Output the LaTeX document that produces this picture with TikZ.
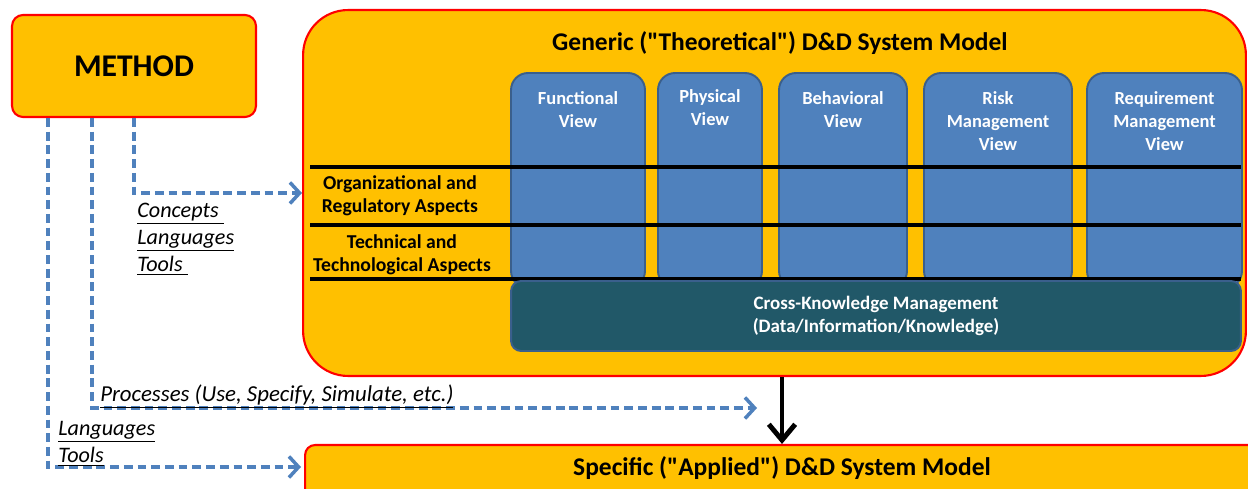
\documentclass[tikz,border=0pt]{standalone}
\usepackage{fontspec}
\setmainfont{Carlito}
\usepackage[HTML]{xcolor}
\usetikzlibrary{positioning, arrows, arrows.meta}

\definecolor{gold}{HTML}{FFC000}
\definecolor{viewblue}{HTML}{4F81BD}
\definecolor{viewedge}{HTML}{3A5F8C}
\definecolor{knowteal}{HTML}{215868}

\begin{document}
\begin{tikzpicture}[x=0.02cm, y=-0.02cm,
  model/.style={draw=red, line width=1.2pt, fill=gold},
  view/.style={draw=viewedge, line width=1.1pt, fill=viewblue, rounded corners=0.34cm},
  viewtxt/.style={text=white, font=\bfseries\fontsize{10.5}{13}\selectfont, align=center},
  aspect/.style={font=\bfseries\fontsize{11.2}{13}\selectfont, align=center},
  link/.style={draw=viewblue, line width=2pt, dash pattern=on 5pt off 2.8pt,
    -{Straight Barb[length=5.5pt, width=12pt, line width=2pt]}},
  note/.style={font=\itshape\fontsize{12.6}{15.3}\selectfont, align=left, anchor=north west, inner sep=0pt}]
\clip (0,0) rectangle (1248,489);

% method and models
\node[model, rounded corners=0.22cm, minimum width=4.88cm, minimum height=2.04cm,
  font=\bfseries\fontsize{18}{20}\selectfont] (method) at (134,66) {METHOD};
\node[model, rounded corners=0.9cm, minimum width=18.86cm, minimum height=7.32cm] (generic) at (774.5,193) {};
\node[font=\bfseries\fontsize{14.5}{16}\selectfont] (gtitle) at (780,43)
  {Generic (\textquotedbl Theoretical\textquotedbl) D\&D System Model};
\node[model, rounded corners=0.2cm, minimum width=19.3cm, minimum height=1.5cm] (specific) at (787.5,482.5) {};
\node[font=\bfseries\fontsize{14.5}{16}\selectfont] (stitle) at (782,468)
  {Specific (\textquotedbl Applied\textquotedbl) D\&D System Model};

% views
\node[view, minimum width=2.68cm, minimum height=4.3cm] (fv) at (578,180.5) {};
\node[view, minimum width=2.08cm, minimum height=4.3cm] (pv) at (710,180.5) {};
\node[view, minimum width=2.56cm, minimum height=4.3cm] (bv) at (843,180.5) {};
\node[view, minimum width=2.96cm, minimum height=4.3cm] (rv) at (998,180.5) {};
\node[view, minimum width=3.10cm, minimum height=4.3cm] (qv) at (1164.5,180.5) {};
\node[viewtxt] at (578,109.5) {Functional\\View};
\node[viewtxt] at (710,107.5) {Physical\\View};
\node[viewtxt] at (843,109.5) {Behavioral\\View};
\node[viewtxt] at (998,121) {Risk\\Management\\View};
\node[viewtxt] at (1164.5,121) {Requirement\\Management\\View};

% layers
\foreach \y in {167,225,279}
  \draw[line width=2.3pt] (310,\y) -- (1241,\y);
\node[aspect] (org) at (400,196) {Organizational and\\Regulatory Aspects};
\node[aspect] (tech) at (402,255) {Technical and\\Technological Aspects};
\node[draw=viewedge, line width=1.1pt, fill=knowteal, rounded corners=0.2cm, minimum width=14.6cm,
  minimum height=1.4cm, text=white, font=\bfseries\fontsize{10.8}{13}\selectfont, align=center]
  (know) at (876,316) {Cross-Knowledge Management\\(Data/Information/Knowledge)};

% links
\coordinate (cin) at (302,193);
\coordinate (pin) at (757,408);
\coordinate (sin) at (301,467);
\draw[link] (method.south) |- (cin);
\draw[link] ([xshift=-0.84cm]method.south) |- (pin);
\draw[link] ([xshift=-1.72cm]method.south) |- (sin);
\draw[line width=2.8pt, -{Straight Barb[length=9pt, width=15pt]}] (generic.south -| stitle) -- (stitle |- specific.north);
\node[note] (cpt) at (137,203) {\underline{Concepts\ }\\\underline{Languages}\\\underline{Tools\ }};
\node[note, font=\itshape\fontsize{13}{15.3}\selectfont] (proc) at (100,384) {\underline{Processes (Use, Specify, Simulate, etc.)}};
\node[note] (lang) at (58,421) {\underline{Languages}\\\underline{Tools}};
\end{tikzpicture}
\end{document}
